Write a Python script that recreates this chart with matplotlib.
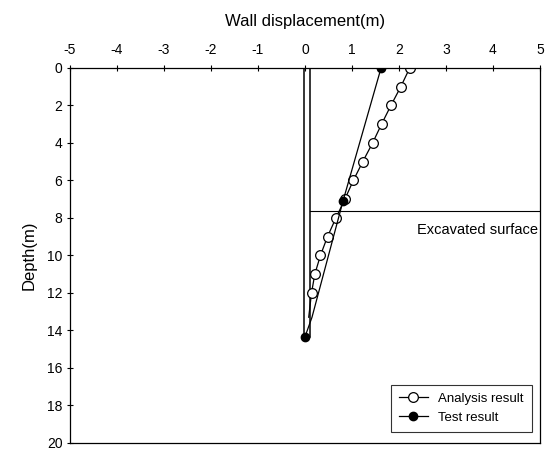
import matplotlib.pyplot as plt

plt.rcParams['font.family'] = ['Liberation Sans', 'DejaVu Sans']
plt.rcParams['axes.unicode_minus'] = False

# analysis result: displacement at each metre of depth
depth_analysis = [0, 1, 2, 3, 4, 5, 6, 7, 8, 9, 10, 11, 12, 13.3]
disp_analysis = [2.23, 2.04, 1.83, 1.63, 1.44, 1.23, 1.03, 0.85, 0.66, 0.48, 0.33, 0.21, 0.14, 0.08]
marker_analysis = 13  # last point has no circle

# test result
depth_test = [0, 7.1, 13.3, 14.35]
disp_test = [1.62, 0.81, 0.15, 0.0]
marker_test = [0, 1, 3]

# wall
wall_x = [-0.02, 0.1]
wall_bottom = 14.35
excavation = 7.63

fig = plt.figure(figsize=(5.47, 4.5), dpi=100)
ax = fig.add_axes([0.128, 0.016, 0.859, 0.833])

for wx in wall_x:
    ax.plot([wx, wx], [0, wall_bottom], color='black', lw=1.1)
ax.plot([wall_x[1], 5], [excavation, excavation], color='black', lw=0.8)
ax.text(4.95, excavation + 1.0, 'Excavated surface', ha='right', va='center', fontsize=10.5)

ax.plot(disp_analysis, depth_analysis, '-o', color='black', lw=0.9, ms=7,
        mfc='white', mec='black', mew=0.9, markevery=list(range(marker_analysis)),
        label='Analysis result')
ax.plot(disp_test, depth_test, '-o', color='black', lw=0.9, ms=6,
        mfc='black', mec='black', markevery=marker_test, label='Test result')

ax.set_xlim(-5, 5)
ax.set_ylim(20, 0)
ax.set_xticks(range(-5, 6))
ax.set_yticks(range(0, 21, 2))
ax.xaxis.tick_top()
ax.xaxis.set_label_position('top')
ax.tick_params(axis='both', labelsize=10, length=4, width=0.8, direction='inout')
ax.tick_params(axis='x', pad=6)
ax.set_xlabel('Wall displacement(m)', fontsize=12, labelpad=12)
ax.set_ylabel('Depth(m)', fontsize=12, labelpad=7)
for s in ax.spines.values():
    s.set_linewidth(0.9)

leg = ax.legend(loc='lower right', fontsize=9.5, frameon=True, fancybox=False,
                edgecolor='black', handlelength=2.2, borderpad=0.6,
                bbox_to_anchor=(0.997, 0.012))
leg.get_frame().set_linewidth(0.8)

fig.savefig('out.png', dpi=100)
